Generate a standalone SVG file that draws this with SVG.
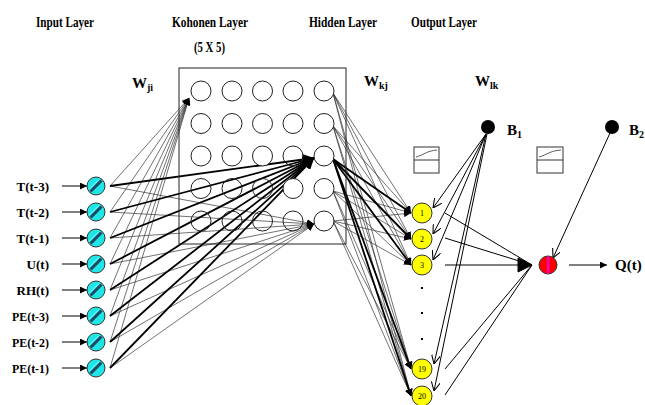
<svg xmlns="http://www.w3.org/2000/svg" width="645" height="405" viewBox="0 0 645 405">
<style>
.t{font-family:"Liberation Serif","Times New Roman",serif;font-weight:bold;fill:#000}
.title{font-size:15px}
.lab{font-size:13px}
.num{font-family:"Liberation Serif",serif;font-size:8px;fill:#000}
.thin{stroke:#333;stroke-width:0.7;fill:none}
.thick{stroke:#000;stroke-width:1.8;fill:none}
.med{stroke:#000;stroke-width:1;fill:none}
.kc{fill:#fff;stroke:#222;stroke-width:1}
.hn{fill:#ffff00;stroke:#333;stroke-width:1}
</style>
<defs>
<marker id="af" viewBox="0 0 10 10" refX="10" refY="5" markerWidth="7" markerHeight="7" markerUnits="userSpaceOnUse" orient="auto"><path d="M0,0 L10,5 L0,10 z" fill="#000"/></marker>
<marker id="afl" viewBox="0 0 10 10" refX="10" refY="5" markerWidth="11" markerHeight="11" markerUnits="userSpaceOnUse" orient="auto"><path d="M0,0 L10,5 L0,10 z" fill="#000"/></marker>
<marker id="ao" viewBox="0 0 10 10" refX="10" refY="5" markerWidth="9" markerHeight="9" markerUnits="userSpaceOnUse" orient="auto"><path d="M0,0 L10,5 L0,10" fill="none" stroke="#000" stroke-width="1.2"/></marker>
<g id="inNode"><circle r="9" fill="#1fe6e6" stroke="#333" stroke-width="1"/><path d="M-5.5,5.5 L5.5,-5.5" stroke="#1d4866" stroke-width="3"/><path d="M-6.5,3 L3,-6.5" stroke="#8ff" stroke-width="1"/></g>
</defs>

<!-- titles -->
<g id="titles">
<text class="t title" x="36" y="27" textLength="58" lengthAdjust="spacingAndGlyphs">Input Layer</text>
<text class="t title" x="172" y="27" textLength="76" lengthAdjust="spacingAndGlyphs">Kohonen Layer</text>
<text class="t title" x="309" y="27" textLength="68" lengthAdjust="spacingAndGlyphs">Hidden Layer</text>
<text class="t title" x="411" y="27" textLength="66" lengthAdjust="spacingAndGlyphs">Output Layer</text>
<text class="t title" x="194" y="52" textLength="31" lengthAdjust="spacingAndGlyphs">(5 X 5)</text>
<text class="t" x="132" y="88" font-size="15">W<tspan font-size="10" dy="3">ji</tspan></text>
<text class="t" x="364" y="86" font-size="15">W<tspan font-size="10" dy="3">kj</tspan></text>
<text class="t" x="475" y="86" font-size="15">W<tspan font-size="10" dy="3">lk</tspan></text>
</g>

<!-- connectors -->
<g id="connectors">
<g class="med">
<path d="M62,186 L87,186" marker-end="url(#af)"/>
<path d="M62,212 L87,212" marker-end="url(#af)"/>
<path d="M62,238 L87,238" marker-end="url(#af)"/>
<path d="M62,264 L87,264" marker-end="url(#af)"/>
<path d="M62,290 L87,290" marker-end="url(#af)"/>
<path d="M62,316 L87,316" marker-end="url(#af)"/>
<path d="M62,342 L87,342" marker-end="url(#af)"/>
<path d="M62,368 L87,368" marker-end="url(#af)"/>
</g>
<g class="thin">
<path d="M110,186 L189,98" marker-end="url(#af)"/>
<path d="M110,212 L189,98" marker-end="url(#af)"/>
<path d="M110,238 L189,98" marker-end="url(#af)"/>
<path d="M110,264 L189,98" marker-end="url(#af)"/>
<path d="M110,290 L189,98" marker-end="url(#af)"/>
<path d="M110,316 L189,98" marker-end="url(#af)"/>
<path d="M110,342 L189,98" marker-end="url(#af)"/>
<path d="M110,368 L189,98" marker-end="url(#af)"/>
</g>
<g class="thin">
<path d="M110,186 L314,224" marker-end="url(#af)"/>
<path d="M110,212 L314,224" marker-end="url(#af)"/>
<path d="M110,238 L314,224" marker-end="url(#af)"/>
<path d="M110,264 L314,224" marker-end="url(#af)"/>
<path d="M110,290 L314,224" marker-end="url(#af)"/>
<path d="M110,316 L314,224" marker-end="url(#af)"/>
<path d="M110,342 L314,224" marker-end="url(#af)"/>
<path d="M110,368 L314,224" marker-end="url(#af)"/>
</g>
<g class="thick">
<path d="M110,186 L314,158" marker-end="url(#afl)"/>
<path d="M110,212 L314,158" marker-end="url(#afl)"/>
<path d="M110,238 L314,158" marker-end="url(#afl)"/>
<path d="M110,264 L314,158" marker-end="url(#afl)"/>
<path d="M110,290 L314,158" marker-end="url(#afl)"/>
<path d="M110,316 L314,158" marker-end="url(#afl)"/>
<path d="M110,342 L314,158" marker-end="url(#afl)"/>
<path d="M110,368 L314,158" marker-end="url(#afl)"/>
</g>
<g class="thin">
<path d="M333,93 L411,213" marker-end="url(#af)"/>
<path d="M333,93 L411,239" marker-end="url(#af)"/>
<path d="M333,93 L411,265" marker-end="url(#af)"/>
<path d="M333,93 L411,369" marker-end="url(#af)"/>
<path d="M333,93 L411,396" marker-end="url(#af)"/>
<path d="M333,126 L411,213" marker-end="url(#af)"/>
<path d="M333,126 L411,239" marker-end="url(#af)"/>
<path d="M333,126 L411,265" marker-end="url(#af)"/>
<path d="M333,126 L411,369" marker-end="url(#af)"/>
<path d="M333,126 L411,396" marker-end="url(#af)"/>
<path d="M333,191 L411,213" marker-end="url(#af)"/>
<path d="M333,191 L411,239" marker-end="url(#af)"/>
<path d="M333,191 L411,265" marker-end="url(#af)"/>
<path d="M333,191 L411,369" marker-end="url(#af)"/>
<path d="M333,191 L411,396" marker-end="url(#af)"/>
<path d="M333,221 L411,213" marker-end="url(#af)"/>
<path d="M333,221 L411,239" marker-end="url(#af)"/>
<path d="M333,221 L411,265" marker-end="url(#af)"/>
<path d="M333,221 L411,369" marker-end="url(#af)"/>
<path d="M333,221 L411,396" marker-end="url(#af)"/>
</g>
<g class="thick">
<path d="M333,159 L411,213" marker-end="url(#af)"/>
<path d="M333,159 L411,239" marker-end="url(#af)"/>
<path d="M333,159 L411,265" marker-end="url(#af)"/>
<path d="M333,159 L411,369" marker-end="url(#af)"/>
<path d="M333,159 L411,396" marker-end="url(#af)"/>
</g>
<g class="med">
<path d="M486,134 L433,208" marker-end="url(#ao)"/>
<path d="M486,134 L433,234" marker-end="url(#ao)"/>
<path d="M486,134 L433,260" marker-end="url(#ao)"/>
<path d="M486,134 L434,364" marker-end="url(#ao)"/>
<path d="M487,134 L434,391" marker-end="url(#ao)"/>
</g>
<g class="med">
<path d="M445,213 L532,265"/>
<path d="M445,238 L532,265"/>
<path d="M445,369 L532,265"/>
<path d="M445,395 L532,265"/>
<path d="M445,265 L532,265"/>
<polygon points="532,265 518,258 518,272" fill="#000"/>
</g>
<path class="med" d="M610,133 L553,258" marker-end="url(#ao)"/>
<path class="med" d="M569,265 L607,265" marker-end="url(#af)"/>
</g>

<!-- input nodes -->
<g id="inputs">
<g id="in-t3"><text class="t lab" x="49" y="191" text-anchor="end">T(t-3)</text><use href="#inNode" x="96" y="186"/></g>
<g id="in-t2"><text class="t lab" x="49" y="217" text-anchor="end">T(t-2)</text><use href="#inNode" x="96" y="212"/></g>
<g id="in-t1"><text class="t lab" x="49" y="243" text-anchor="end">T(t-1)</text><use href="#inNode" x="96" y="238"/></g>
<g id="in-u"><text class="t lab" x="49" y="269" text-anchor="end">U(t)</text><use href="#inNode" x="96" y="264"/></g>
<g id="in-rh"><text class="t lab" x="49" y="295" text-anchor="end">RH(t)</text><use href="#inNode" x="96" y="290"/></g>
<g id="in-pe3"><text class="t lab" x="49" y="321" text-anchor="end" textLength="37" lengthAdjust="spacingAndGlyphs">PE(t-3)</text><use href="#inNode" x="96" y="316"/></g>
<g id="in-pe2"><text class="t lab" x="49" y="347" text-anchor="end" textLength="37" lengthAdjust="spacingAndGlyphs">PE(t-2)</text><use href="#inNode" x="96" y="342"/></g>
<g id="in-pe1"><text class="t lab" x="49" y="373" text-anchor="end" textLength="37" lengthAdjust="spacingAndGlyphs">PE(t-1)</text><use href="#inNode" x="96" y="368"/></g>
</g>

<!-- kohonen layer -->
<g id="kohonen">
<rect x="179" y="68" width="167" height="176" fill="none" stroke="#222" stroke-width="1"/>
<g class="kc">
<circle cx="201" cy="91" r="10"/><circle cx="232" cy="91" r="10"/><circle cx="262.5" cy="91" r="10"/><circle cx="293" cy="91" r="10"/><circle cx="324" cy="91" r="10"/>
<circle cx="201" cy="123.5" r="10"/><circle cx="232" cy="123.5" r="10"/><circle cx="262.5" cy="123.5" r="10"/><circle cx="293" cy="123.5" r="10"/><circle cx="324" cy="123.5" r="10"/>
<circle cx="201" cy="156" r="10"/><circle cx="232" cy="156" r="10"/><circle cx="262.5" cy="156" r="10"/><circle cx="293" cy="156" r="10" fill="none"/><circle cx="324" cy="156" r="10"/>
<circle cx="201" cy="188.5" r="10" fill="none"/><circle cx="232" cy="188.5" r="10" fill="none"/><circle cx="262.5" cy="188.5" r="10" fill="none"/><circle cx="293" cy="188.5" r="10"/><circle cx="324" cy="188.5" r="10"/>
<circle cx="201" cy="221" r="10" fill="none"/><circle cx="232" cy="221" r="10" fill="none"/><circle cx="262.5" cy="221" r="10" fill="none"/><circle cx="293" cy="221" r="10" fill="none"/><circle cx="324" cy="221" r="10"/>
</g>
</g>

<!-- hidden layer -->
<g id="hidden">
<g id="sig1"><rect x="414" y="147" width="25" height="26" fill="#fff" stroke="#333" stroke-width="1"/><path d="M414,160 L439,160" stroke="#333" stroke-width="1"/><path d="M416,157 C424,155 426,151 437,150" fill="none" stroke="#333" stroke-width="0.8"/></g>
<g id="h1"><circle class="hn" cx="422" cy="213" r="10"/><text class="num" x="422" y="216" text-anchor="middle">1</text></g>
<g id="h2"><circle class="hn" cx="422" cy="239" r="10"/><text class="num" x="422" y="242" text-anchor="middle">2</text></g>
<g id="h3"><circle class="hn" cx="422" cy="265" r="10"/><text class="num" x="422" y="268" text-anchor="middle">3</text></g>
<g id="dots" fill="#000"><rect x="421" y="287" width="2" height="2"/><rect x="421" y="312" width="2" height="2"/><rect x="421" y="338" width="2" height="2"/></g>
<g id="h19"><circle class="hn" cx="422" cy="369" r="10"/><text class="num" x="422" y="372" text-anchor="middle">19</text></g>
<g id="h20"><circle class="hn" cx="422" cy="396" r="10"/><text class="num" x="422" y="399" text-anchor="middle">20</text></g>
</g>

<g id="b1"><circle cx="488" cy="127" r="7" fill="#000"/><text class="t" x="507" y="135" font-size="15">B<tspan font-size="10" dy="3">1</tspan></text></g>

<g id="output">
<g id="sig2"><rect x="537" y="147" width="26" height="26" fill="#fff" stroke="#333" stroke-width="1"/><path d="M537,160 L563,160" stroke="#333" stroke-width="1"/><path d="M539,157 C547,155 549,151 561,150" fill="none" stroke="#333" stroke-width="0.8"/></g>
<g id="out"><circle cx="548" cy="265" r="9" fill="#ff0000" stroke="#333" stroke-width="1"/><rect x="547" y="256.5" width="2.4" height="17" fill="#ff00c8"/></g>
<text class="t" x="615" y="270" font-size="15">Q(t)</text>
</g>

<g id="b2"><circle cx="612" cy="127" r="7" fill="#000"/><text class="t" x="629" y="135" font-size="15">B<tspan font-size="10" dy="3">2</tspan></text></g>
</svg>
